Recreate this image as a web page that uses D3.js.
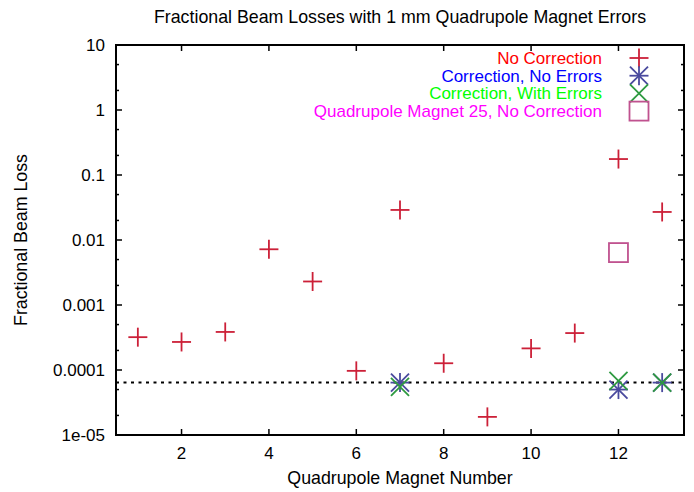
<!DOCTYPE html>
<html>
<head>
<meta charset="utf-8">
<script src="https://cdn.jsdelivr.net/npm/d3@7"></script>
<style>
  body { margin: 0; background: #fff; }
  svg text { font-family: "Liberation Sans", Arial, Helvetica, sans-serif; }
</style>
</head>
<body>
<div id="chart"></div>
<script>
// data
const magnets = [1, 2, 3, 4, 5, 6, 7, 8, 9, 10, 11, 12, 13];
const noCorrection = [3.2e-4, 2.7e-4, 3.85e-4, 7.2e-3, 2.3e-3, 9.7e-5, 2.9e-2, 1.27e-4, 1.9e-5, 2.15e-4, 3.7e-4, 0.176, 0.027];
const corrNoErrMagnets = [7, 12, 13];
const corrNoErr = [6.4e-5, 5.0e-5, 6.4e-5];
const corrWithErrMagnets = [7, 12, 13];
const corrWithErr = [5.5e-5, 6.8e-5, 6.4e-5];
const magnet25X = [12];
const magnet25 = [6.4e-3];
const referenceLevel = 6.4e-5;
const xTicks = [2, 4, 6, 8, 10, 12];
const yTicks = [1e-5, 1e-4, 1e-3, 1e-2, 0.1, 1, 10];
const yTickLabels = ['1e-05', '0.0001', '0.001', '0.01', '0.1', '1', '10'];
const legendLabels = ['No Correction', 'Correction, No Errors', 'Correction, With Errors', 'Quadrupole Magnet 25, No Correction'];
const legendTextColors = ['#ff0000', '#0000ff', '#00ff00', '#ff00ff'];
const markerColors = ['#cc2038', '#4a4a9e', '#2e9a40', '#c0528f'];

const W = 694, H = 492;
const margin = {top: 45, right: 10, bottom: 57, left: 116};
const width = W - margin.left - margin.right;
const height = H - margin.top - margin.bottom;

const svg = d3.select('#chart').append('svg')
    .attr('width', W)
    .attr('height', H);

const g = svg.append('g')
    .attr('transform', `translate(${margin.left},${margin.top})`);

const x = d3.scaleLinear().domain([0.5, 13.5]).range([0, width]);
const y = d3.scaleLog().domain([1e-5, 10]).range([height, 0]);

// minor ticks at 2 and 5 of each decade
const minorTicks = [];
yTicks.slice(0, -1).forEach(t => { minorTicks.push(t * 2, t * 5); });

const fontSize = 17;

// ticks
const ticks = g.append('g').attr('stroke', '#000').attr('stroke-width', 1.5);
xTicks.forEach(t => {
    ticks.append('line').attr('x1', x(t)).attr('x2', x(t)).attr('y1', height).attr('y2', height - 6);
    ticks.append('line').attr('x1', x(t)).attr('x2', x(t)).attr('y1', 0).attr('y2', 6);
});
yTicks.forEach(t => {
    ticks.append('line').attr('x1', 0).attr('x2', 6).attr('y1', y(t)).attr('y2', y(t));
    ticks.append('line').attr('x1', width).attr('x2', width - 6).attr('y1', y(t)).attr('y2', y(t));
});
minorTicks.forEach(t => {
    ticks.append('line').attr('x1', 0).attr('x2', 3).attr('y1', y(t)).attr('y2', y(t));
    ticks.append('line').attr('x1', width).attr('x2', width - 3).attr('y1', y(t)).attr('y2', y(t));
});

// tick labels
g.selectAll('.xlab').data(xTicks).enter().append('text')
    .attr('x', d => x(d))
    .attr('y', height + 24)
    .attr('text-anchor', 'middle')
    .style('font-size', fontSize + 'px')
    .text(d => d);

g.selectAll('.ylab').data(yTicks).enter().append('text')
    .attr('x', -11)
    .attr('y', d => y(d))
    .attr('dy', '0.35em')
    .attr('text-anchor', 'end')
    .style('font-size', fontSize + 'px')
    .text((d, i) => yTickLabels[i]);

// frame
g.append('rect')
    .attr('width', width)
    .attr('height', height)
    .attr('fill', 'none')
    .attr('stroke', '#000')
    .attr('stroke-width', 2);

// dotted reference line
g.append('line')
    .attr('x1', 0).attr('x2', width)
    .attr('y1', y(referenceLevel)).attr('y2', y(referenceLevel))
    .attr('stroke', '#000')
    .attr('stroke-width', 2)
    .attr('stroke-dasharray', '3,4.5');

// titles
svg.append('text')
    .attr('x', margin.left + width / 2)
    .attr('y', 23)
    .attr('text-anchor', 'middle')
    .style('font-size', '17.8px')
    .text('Fractional Beam Losses with 1 mm Quadrupole Magnet Errors');

svg.append('text')
    .attr('x', margin.left + width / 2)
    .attr('y', H - 8)
    .attr('text-anchor', 'middle')
    .style('font-size', '17.8px')
    .text('Quadrupole Magnet Number');

svg.append('text')
    .attr('transform', `translate(27,${margin.top + height / 2}) rotate(-90)`)
    .attr('text-anchor', 'middle')
    .style('font-size', '17.8px')
    .text('Fractional Beam Loss');

// marker drawing
const S = 9.5;
function drawMarker(sel, type, color) {
    sel.attr('stroke', color).attr('stroke-width', 1.8).attr('fill', 'none');
    if (type === 'plus' || type === 'star') {
        sel.append('line').attr('x1', -S).attr('x2', S).attr('y1', 0).attr('y2', 0);
        sel.append('line').attr('x1', 0).attr('x2', 0).attr('y1', -S).attr('y2', S);
    }
    if (type === 'cross' || type === 'star') {
        const d = S * 0.95;
        sel.append('line').attr('x1', -d).attr('x2', d).attr('y1', -d).attr('y2', d);
        sel.append('line').attr('x1', -d).attr('x2', d).attr('y1', d).attr('y2', -d);
    }
    if (type === 'square') {
        sel.append('rect').attr('x', -S).attr('y', -S).attr('width', 2 * S).attr('height', 2 * S);
    }
}

const series = [
    {xs: magnets, ys: noCorrection, type: 'plus'},
    {xs: corrNoErrMagnets, ys: corrNoErr, type: 'star'},
    {xs: corrWithErrMagnets, ys: corrWithErr, type: 'cross'},
    {xs: magnet25X, ys: magnet25, type: 'square'}
];

series.forEach((s, i) => {
    s.ys.forEach((v, j) => {
        const m = g.append('g')
            .attr('transform', `translate(${x(s.xs[j])},${y(v)})`);
        drawMarker(m, s.type, markerColors[i]);
    });
});

// legend
const legend = svg.append('g');
legendLabels.forEach((label, i) => {
    const ly = 58 + i * 17.7;
    legend.append('text')
        .attr('x', 602)
        .attr('y', ly)
        .attr('dy', '0.35em')
        .attr('text-anchor', 'end')
        .attr('fill', legendTextColors[i])
        .style('font-size', fontSize + 'px')
        .text(label);
    const m = legend.append('g').attr('transform', `translate(639,${ly})`);
    drawMarker(m, series[i].type, markerColors[i]);
});
</script>
</body>
</html>
